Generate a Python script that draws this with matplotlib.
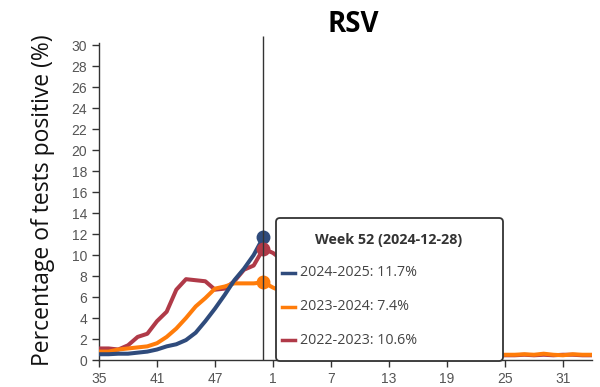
import matplotlib.pyplot as plt
from matplotlib.patches import FancyBboxPatch

# season weeks 35..52, 1..34
weeks = list(range(35, 53)) + list(range(1, 35))
tick_weeks = [35, 41, 47, 1, 7, 13, 19, 25, 31]
y_ticks = list(range(0, 31, 2))

s2425 = [0.55, 0.55, 0.6, 0.6, 0.7, 0.8, 1.0, 1.3, 1.5, 1.9, 2.6, 3.7,
         4.9, 6.2, 7.6, 8.7, 10.0, 11.7]
s2324 = [0.8, 0.8, 1.0, 1.1, 1.2, 1.3, 1.6, 2.2, 3.0, 4.0, 5.1, 5.9,
         6.8, 7.0, 7.3, 7.3, 7.3, 7.4,
         6.9, 6.5, 5.8, 5.0, 4.2, 3.5, 2.8, 2.2, 1.8, 1.4, 1.1, 0.9,
         0.8, 0.7, 0.6, 0.6, 0.5, 0.5, 0.5, 0.5, 0.5, 0.5, 0.5, 0.45,
         0.5, 0.5, 0.55, 0.5, 0.6, 0.5, 0.45, 0.55, 0.5, 0.5]
s2223 = [1.1, 1.1, 1.0, 1.4, 2.2, 2.5, 3.7, 4.6, 6.7, 7.7, 7.6, 7.5,
         6.7, 6.8, 7.5, 8.6, 9.0, 10.6,
         10.2, 9.5, 8.4, 7.0, 5.6, 4.3, 3.2, 2.4, 1.8, 1.3, 1.0, 0.8,
         0.7, 0.6, 0.5, 0.5, 0.5, 0.45, 0.45, 0.45, 0.45, 0.45, 0.45, 0.4,
         0.45, 0.45, 0.5, 0.45, 0.5, 0.45, 0.5, 0.5, 0.45, 0.45]

seasons = ['2024-2025', '2023-2024', '2022-2023']
colors = ['#2f4b7c', '#ff7c0a', '#b03a48']
series = [s2425, s2324, s2223]
current = 17  # index of week 52

W, H = 600, 387
fig = plt.figure(figsize=(6, 3.87), dpi=100)
ax = fig.add_axes([99 / W, (H - 360) / H, (592 - 99) / W, (360 - 43) / H])

# draw older seasons first so the current one sits on top
for vals, c in [(s2223, colors[2]), (s2324, colors[1]), (s2425, colors[0])]:
    ax.plot(range(len(vals)), vals, color=c, lw=2.9, solid_capstyle='butt',
            solid_joinstyle='round', zorder=3)
for vals, c in zip(series, colors):
    ax.plot(current, vals[current], 'o', color=c, ms=9, zorder=4)

ax.vlines(current, 0, 30.85, color='#333333', lw=1, zorder=5, clip_on=False)

ax.set_xlim(0, len(weeks) - 1)
ax.set_ylim(0, 30.2)
ax.set_xticks([weeks.index(w) for w in tick_weeks])
ax.set_xticklabels([str(w) for w in tick_weeks])
ax.set_yticks(y_ticks)
for s in ['top', 'right']:
    ax.spines[s].set_visible(False)
for s in ['left', 'bottom']:
    ax.spines[s].set_color('#333333')
    ax.spines[s].set_linewidth(1)
ax.tick_params(colors='#333333', length=5, width=1, labelsize=10,
               labelcolor='#555555')
for lab in ax.get_xticklabels() + ax.get_yticklabels():
    lab.set_fontfamily('Liberation Sans')

fig.text(43 / W, 0.5 * ((H - 365) + (H - 35)) / H,
         'Percentage of tests positive (%)', rotation=90, ha='center',
         va='center', fontsize=16.5, family='Open Sans', color='#111111')
fig.text(353 / W, 1 - 25 / H, 'RSV', ha='center', va='center',
         fontsize=20, fontweight='bold', family='Open Sans')

# tooltip overlay in pixel coordinates
ov = fig.add_axes([0, 0, 1, 1], zorder=10)
ov.set_xlim(0, W)
ov.set_ylim(H, 0)
ov.axis('off')
ov.patch.set_alpha(0)
box = FancyBboxPatch((276, 218), 227, 143,
                     boxstyle='round,pad=0,rounding_size=4',
                     fc='white', ec='#333333', lw=1.3)
ov.add_patch(box)
ov.text(389, 240, 'Week 52 (2024-12-28)', ha='center', va='center',
        fontsize=10.3, fontweight='bold', family='Open Sans', color='#333333')
for i, (name, vals, c) in enumerate(zip(seasons, series, colors)):
    yy = 273 + i * 33.5
    ov.plot([282, 295], [yy, yy], color=c, lw=2.5)
    ov.text(300, yy, f'{name}: {vals[current]:.1f}%', ha='left',
            va='center', fontsize=10.3, family='Open Sans', color='#444444')

fig.savefig('out.png', dpi=100)
